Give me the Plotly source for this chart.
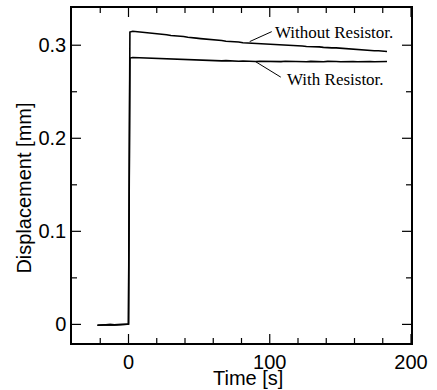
import plotly.graph_objects as go

# ---------------- data ----------------
pre_t = [-22, -19, -16, -13, -10, -7, -4, -1, 0]
pre_v = [-0.0010, -0.0006, -0.0008, -0.0003, -0.0005, 0.0000, -0.0002, 0.0002, 0.0003]

post_t = [1, 3, 6, 9, 12, 15, 18, 21, 24, 27, 30, 33, 36, 39, 42, 45, 48, 51, 54, 57,
          60, 63, 66, 69, 72, 75, 78, 81, 84, 87, 90, 93, 96, 99, 102, 105, 108, 111,
          114, 117, 120, 123, 126, 129, 132, 135, 138, 141, 144, 147, 150, 153, 156,
          159, 162, 165, 168, 171, 174, 177, 180, 183]

without_v = [0.3142, 0.3150, 0.3146, 0.3143, 0.3138, 0.3134, 0.3126, 0.3124, 0.3116, 0.3112,
             0.3104, 0.3103, 0.3096, 0.3093, 0.3085, 0.3084, 0.3076, 0.3071, 0.3068, 0.3062,
             0.3060, 0.3052, 0.3050, 0.3043, 0.3042, 0.3035, 0.3034, 0.3027, 0.3025, 0.3021,
             0.3020, 0.3014, 0.3016, 0.3010, 0.3009, 0.3004, 0.3005, 0.2999, 0.2998, 0.2996,
             0.2993, 0.2992, 0.2987, 0.2988, 0.2983, 0.2982, 0.2977, 0.2978, 0.2972, 0.2971,
             0.2967, 0.2966, 0.2961, 0.2960, 0.2955, 0.2954, 0.2948, 0.2947, 0.2941, 0.2940,
             0.2935, 0.2933]

with_v = [0.2862, 0.2868, 0.2866, 0.2867, 0.2863, 0.2864, 0.2860, 0.2861, 0.2857, 0.2856,
          0.2853, 0.2854, 0.2849, 0.2850, 0.2845, 0.2846, 0.2842, 0.2843, 0.2838, 0.2839,
          0.2835, 0.2836, 0.2832, 0.2834, 0.2830, 0.2832, 0.2828, 0.2830, 0.2826, 0.2828,
          0.2825, 0.2828, 0.2826, 0.2829, 0.2825, 0.2828, 0.2824, 0.2827, 0.2825, 0.2828,
          0.2824, 0.2826, 0.2823, 0.2826, 0.2824, 0.2827, 0.2823, 0.2826, 0.2822, 0.2825,
          0.2823, 0.2826, 0.2822, 0.2825, 0.2823, 0.2826, 0.2822, 0.2825, 0.2823, 0.2826,
          0.2823, 0.2825]

x_ticks = [0, 100, 200]
x_tick_text = ["0", "100", "200"]
x_minor_ticks = [-20, 20, 40, 60, 80, 120, 140, 160, 180]
y_ticks = [0, 0.1, 0.2, 0.3]
y_tick_text = ["0", "0.1", "0.2", "0.3"]
y_minor_ticks = [0.05, 0.15, 0.25]

x_title = "Time [s]"
y_title = "Displacement [mm]"
label_without = "Without Resistor."
label_with = "With Resistor."

# ---------------- figure ----------------
SANS = "Liberation Sans, Arial, Helvetica, sans-serif"
SERIF = "Liberation Serif, Times New Roman, serif"
LINE = dict(color="black", width=1.6)
X_RANGE = [-40, 200]
Y_RANGE = [-0.02, 0.34]
CLEAR = "rgba(0,0,0,0)"
tickfont = dict(family=SANS, size=20, color="black")

fig = go.Figure()
fig.add_trace(go.Scatter(x=pre_t + post_t, y=pre_v + without_v, mode="lines",
                         line=LINE, showlegend=False, name=label_without))
fig.add_trace(go.Scatter(x=pre_t + post_t, y=pre_v + with_v, mode="lines",
                         line=LINE, showlegend=False, name=label_with))

fig.update_xaxes(range=X_RANGE, tickvals=x_ticks, ticktext=x_tick_text, ticks="",
                 showline=True, linecolor="black", linewidth=1.5, mirror=True,
                 gridcolor=CLEAR, zerolinecolor=CLEAR, tickfont=tickfont)
fig.update_yaxes(range=Y_RANGE, tickvals=y_ticks, ticktext=y_tick_text, ticks="",
                 showline=True, linecolor="black", linewidth=1.5, mirror=True,
                 gridcolor=CLEAR, zerolinecolor=CLEAR, tickfont=tickfont)

# inward tick marks on all four sides, placed at the tick values through the axes
PLOT_W, PLOT_H = 437 - 72 - 26, 390 - 8 - 47
MAJOR_LEN, MINOR_LEN = 9, 5
TICK_LINE = dict(color="black", width=1.2)
for vals, length in ((x_ticks, MAJOR_LEN), (x_minor_ticks, MINOR_LEN)):
    frac = length / PLOT_H
    for v in vals:
        fig.add_shape(type="line", xref="x", yref="paper", x0=v, x1=v, y0=0, y1=frac,
                      line=TICK_LINE, layer="above")
        fig.add_shape(type="line", xref="x", yref="paper", x0=v, x1=v, y0=1, y1=1 - frac,
                      line=TICK_LINE, layer="above")
for vals, length in ((y_ticks, MAJOR_LEN), (y_minor_ticks, MINOR_LEN)):
    frac = length / PLOT_W
    for v in vals:
        fig.add_shape(type="line", xref="paper", yref="y", y0=v, y1=v, x0=0, x1=frac,
                      line=TICK_LINE, layer="above")
        fig.add_shape(type="line", xref="paper", yref="y", y0=v, y1=v, x0=1, x1=1 - frac,
                      line=TICK_LINE, layer="above")

# leader lines for the curve labels
fig.add_shape(type="line", xref="x", yref="y", x0=101.4, y0=0.3146, x1=85.8, y1=0.3039,
              line=dict(color="black", width=1))
fig.add_shape(type="line", xref="x", yref="y", x0=107.8, y0=0.2657, x1=89.9, y1=0.2824,
              line=dict(color="black", width=1))

fig.add_annotation(x=102.5, y=0.3132, xref="x", yref="y", text=label_without,
                   showarrow=False, xanchor="left", yanchor="middle",
                   font=dict(family=SERIF, size=17, color="black"))
fig.add_annotation(x=111.0, y=0.2628, xref="x", yref="y", text=label_with,
                   showarrow=False, xanchor="left", yanchor="middle",
                   font=dict(family=SERIF, size=17, color="black"))

# axis titles
fig.add_annotation(x=0.5187, y=-0.104, xref="paper", yref="paper", text=x_title,
                   showarrow=False, xanchor="center", yanchor="middle",
                   font=dict(family=SANS, size=20, color="black"))
fig.add_annotation(x=-0.1426, y=0.4628, xref="paper", yref="paper", text=y_title,
                   showarrow=False, xanchor="center", yanchor="middle", textangle=-90,
                   font=dict(family=SANS, size=20, color="black"))

fig.update_layout(template="none", width=437, height=390,
                  margin=dict(l=72, r=26, t=8, b=47),
                  paper_bgcolor="white", plot_bgcolor="white")

fig.write_html("out.html")
